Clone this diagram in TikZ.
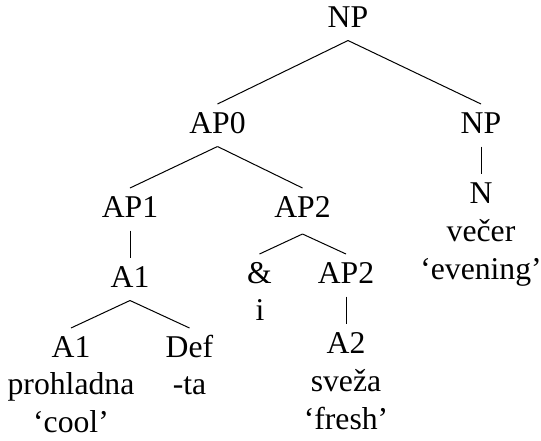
\documentclass[tikz,border=0pt]{standalone}
\usepackage{fontspec}
\setmainfont{Liberation Serif}
\usepackage{tikz}

\begin{document}
\begin{tikzpicture}[x=0.5pt, y=-0.5pt, line width=0.5pt,
    font=\fontsize{15.85}{19}\selectfont,
    cat/.style={anchor=base, inner sep=0pt, text height=10.5pt, text depth=2.75pt, outer sep=4pt},
    word/.style={anchor=base, inner sep=0pt}]
  \useasboundingbox (0,0) rectangle (541,440);
  % categories
  \node [cat] (np) at (348,27) {NP};
  \node [cat] (ap0) at (217.5,133) {AP0};
  \node [cat] (npb) at (481,133) {NP};
  \node [cat] (ap1) at (130,217) {AP1};
  \node [cat] (ap2) at (302.5,217) {AP2};
  \node [cat] (n) at (481,203) {N};
  \node [cat] (a1) at (130,287) {A1};
  \node [cat] (amp) at (259.5,283) {\&};
  \node [cat] (ap2b) at (346,283) {AP2};
  \node [cat] (a1b) at (71,357) {A1};
  \node [cat] (def) at (189.5,357) {Def};
  \node [cat] (a2) at (346,353) {A2};
  % words and glosses
  \node [word] (vecer) at (481,241.5) {večer};
  \node [word] (evening) at (481,279) {`evening'};
  \node [word] (i) at (260,320) {i};
  \node [word] (prohladna) at (71,394.5) {prohladna};
  \node [word] (cool) at (71,432) {`cool'};
  \node [word] (ta) at (189.5,394.5) {-ta};
  \node [word] (sveza) at (346,391) {sveža};
  \node [word] (fresh) at (346,429) {`fresh'};
  % branches
  \draw (np.south) -- (ap0.north);
  \draw (np.south) -- (npb.north);
  \draw (npb.south) -- (n.north);
  \draw (ap0.south) -- (ap1.north);
  \draw (ap0.south) -- (ap2.north);
  \draw (ap1.south) -- (a1.north);
  \draw ([yshift=-1.75pt]ap2.south) -- (amp.north);
  \draw ([yshift=-1.75pt]ap2.south) -- (ap2b.north);
  \draw (ap2b.south) -- (a2.north);
  \draw (a1.south) -- (a1b.north);
  \draw (a1.south) -- (def.north);
\end{tikzpicture}
\end{document}
